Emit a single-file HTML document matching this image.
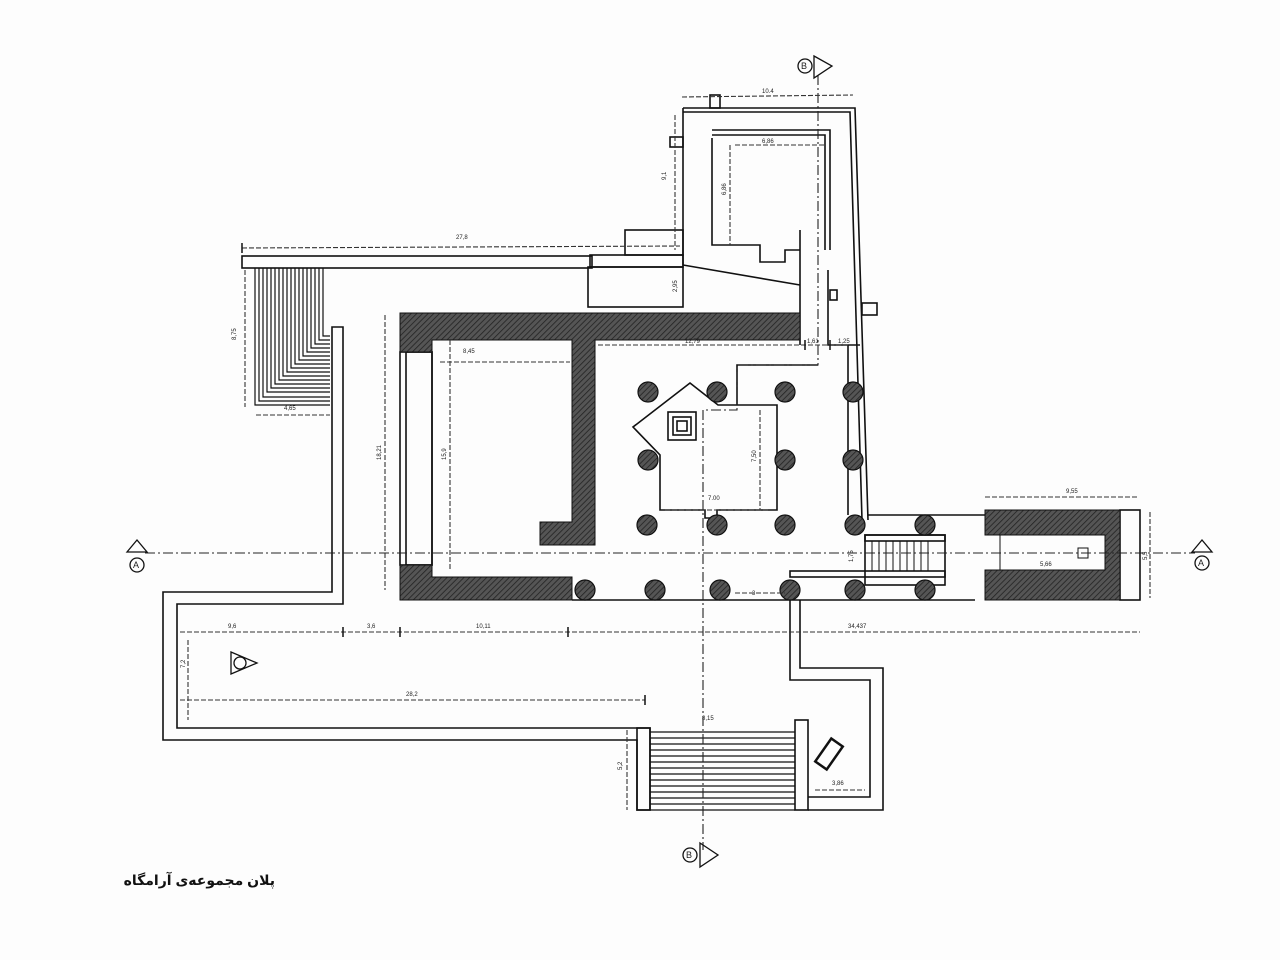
<!DOCTYPE html>
<html><head><meta charset="utf-8"><style>
html,body{margin:0;padding:0;background:#fdfdfd;}
svg{display:block}
text{font-family:"Liberation Sans",sans-serif;font-size:6px;fill:#222}
</style></head><body>
<svg width="1280" height="960" viewBox="0 0 1280 960" xmlns="http://www.w3.org/2000/svg">
<defs>
<pattern id="h" width="4" height="4" patternUnits="userSpaceOnUse" patternTransform="rotate(45)">
<rect width="4" height="4" fill="#555"/><line x1="0" y1="0" x2="0" y2="4" stroke="#222" stroke-width="1.6"/>
</pattern>
</defs>
<rect width="1280" height="960" fill="#fdfdfd"/>
<g fill="none" stroke="#111" stroke-width="1.6">
<rect x="242" y="256" width="350" height="12"/>
<rect x="590" y="255" width="93" height="12"/>
<rect x="588" y="267" width="95" height="40"/>
<rect x="625" y="230" width="58" height="25"/>
<g stroke-width="1.2">
<path d="M255 268V405H330"/><path d="M259 268V401H330"/><path d="M263 268V397H330"/><path d="M267 268V392H330"/>
<path d="M271 268V388H330"/><path d="M275 268V384H330"/><path d="M279 268V380H330"/><path d="M283 268V376H330"/>
<path d="M287 268V372H330"/><path d="M291 268V368H330"/><path d="M295 268V364H330"/><path d="M299 268V360H330"/>
<path d="M303 268V356H330"/><path d="M307 268V352H330"/><path d="M311 268V348H330"/><path d="M315 268V344H330"/><path d="M319 268V340H330"/><path d="M323 268V336H330"/>
</g>
<path d="M332 327H343V604H177V728H650V810H637V740H163V592H332Z"/>
<rect x="637" y="728" width="13" height="82"/>
<g stroke-width="1.2">
<line x1="650" y1="732" x2="795" y2="732"/><line x1="650" y1="738" x2="795" y2="738"/><line x1="650" y1="744" x2="795" y2="744"/>
<line x1="650" y1="750" x2="795" y2="750"/><line x1="650" y1="756" x2="795" y2="756"/><line x1="650" y1="762" x2="795" y2="762"/>
<line x1="650" y1="768" x2="795" y2="768"/><line x1="650" y1="774" x2="795" y2="774"/><line x1="650" y1="780" x2="795" y2="780"/>
<line x1="650" y1="786" x2="795" y2="786"/><line x1="650" y1="792" x2="795" y2="792"/><line x1="650" y1="798" x2="795" y2="798"/>
<line x1="650" y1="804" x2="795" y2="804"/><line x1="650" y1="810" x2="795" y2="810"/>
</g>
<rect x="795" y="720" width="13" height="90"/>
<path d="M790 600V680H870V797H808"/>
<path d="M800 600V668H883V810H808"/>
<rect x="822" y="740" width="14" height="28" transform="rotate(35 829 754)" stroke-width="2.5"/>
<rect x="400" y="352" width="32" height="213"/>
<rect x="406" y="352" width="26" height="213"/>
<line x1="572" y1="600" x2="975" y2="600"/>
<path d="M683 108H855L868 520" />
<path d="M683 112H850L862 520"/>
<path d="M683 108V265L800 285"/>
<path d="M800 345V230"/>
<path d="M712 138V245H760V262H785V250H800"/>
<path d="M712 135H825V250"/>
<path d="M712 130H830V250"/>
<path d="M828 270V345H860"/>
<rect x="710" y="95" width="10" height="13"/>
<rect x="670" y="137" width="13" height="10"/>
<rect x="862" y="303" width="15" height="12"/>
<rect x="830" y="290" width="7" height="10"/>
<path d="M848 345V515"/>
<path d="M690 383L718 405H777V510H717V518H705V510H660V455L633 427Z"/>
<path d="M737 405V365H818"/>
<rect x="668" y="412" width="28" height="28"/>
<rect x="673" y="417" width="18" height="18"/>
<rect x="677" y="421" width="10" height="10"/>
<rect x="865" y="535" width="80" height="50"/>
<rect x="865" y="535" width="80" height="6"/>
<rect x="790" y="571" width="155" height="6"/>
<g stroke-width="1"><line x1="872" y1="541" x2="872" y2="571"/><line x1="879" y1="541" x2="879" y2="571"/><line x1="886" y1="541" x2="886" y2="571"/><line x1="893" y1="541" x2="893" y2="571"/><line x1="900" y1="541" x2="900" y2="571"/><line x1="907" y1="541" x2="907" y2="571"/><line x1="914" y1="541" x2="914" y2="571"/><line x1="921" y1="541" x2="921" y2="571"/><line x1="928" y1="541" x2="928" y2="571"/></g>
<line x1="868" y1="515" x2="985" y2="515"/>
<rect x="1120" y="510" width="20" height="90"/>
</g>
<path d="M400 313H800V340H595V545H540V522H572V340H432V352H400Z" fill="url(#h)" stroke="#111"/>
<path d="M400 565H432V577H572V600H400Z" fill="url(#h)" stroke="#111"/>
<path d="M985 510H1120V600H985V570H1000V535H985Z" fill="url(#h)" stroke="#111"/>
<rect x="1000" y="535" width="105" height="35" fill="#fdfdfd" stroke="#111"/>
<rect x="1078" y="548" width="10" height="10" fill="none" stroke="#111"/>
<g fill="url(#h)" stroke="#111" stroke-width="1.2">
<circle cx="585" cy="590" r="10"/><circle cx="655" cy="590" r="10"/><circle cx="720" cy="590" r="10"/><circle cx="790" cy="590" r="10"/><circle cx="855" cy="590" r="10"/><circle cx="925" cy="590" r="10"/>
<circle cx="647" cy="525" r="10"/><circle cx="717" cy="525" r="10"/><circle cx="785" cy="525" r="10"/><circle cx="855" cy="525" r="10"/><circle cx="925" cy="525" r="10"/>
<circle cx="648" cy="460" r="10"/><circle cx="785" cy="460" r="10"/><circle cx="853" cy="460" r="10"/>
<circle cx="648" cy="392" r="10"/><circle cx="717" cy="392" r="10"/><circle cx="785" cy="392" r="10"/><circle cx="853" cy="392" r="10"/>
</g>
<g fill="none" stroke="#222" stroke-width="1.1" stroke-dasharray="10,3,2,3">
<line x1="145" y1="553" x2="1195" y2="553"/>
<path d="M818 75V365H737V410H703V850"/>
</g>
<g fill="none" stroke="#333" stroke-width="1.1" stroke-dasharray="5,2">
<line x1="242" y1="248" x2="680" y2="246"/>
<line x1="682" y1="97" x2="853" y2="95"/>
<line x1="985" y1="497" x2="1137" y2="497"/>
<line x1="180" y1="632" x2="1140" y2="632"/>
<line x1="180" y1="700" x2="645" y2="700"/>
<line x1="385" y1="315" x2="385" y2="590"/>
<line x1="245" y1="270" x2="245" y2="407"/>
<line x1="256" y1="415" x2="330" y2="415"/>
<line x1="450" y1="340" x2="450" y2="570"/>
<line x1="440" y1="362" x2="570" y2="362"/>
<line x1="598" y1="345" x2="850" y2="345"/>
<line x1="675" y1="115" x2="675" y2="250"/>
<line x1="735" y1="145" x2="825" y2="145"/>
<line x1="730" y1="145" x2="730" y2="245"/>
<line x1="760" y1="410" x2="760" y2="510"/>
<line x1="665" y1="510" x2="770" y2="510"/>
<line x1="735" y1="593" x2="785" y2="593"/>
<line x1="188" y1="640" x2="188" y2="720"/>
<line x1="627" y1="730" x2="627" y2="810"/>
<line x1="815" y1="790" x2="865" y2="790"/>
<line x1="1150" y1="512" x2="1150" y2="598"/>
</g>
<g stroke="#111" stroke-width="1.5">
<line x1="242" y1="243" x2="242" y2="253"/><line x1="343" y1="627" x2="343" y2="637"/><line x1="400" y1="627" x2="400" y2="637"/><line x1="568" y1="627" x2="568" y2="637"/><line x1="645" y1="695" x2="645" y2="705"/>
<line x1="805" y1="340" x2="805" y2="350"/><line x1="830" y1="340" x2="830" y2="350"/>
</g>
<text x="456" y="239">27,8</text>
<text x="762" y="93">10.4</text>
<text x="762" y="143">6,86</text>
<text x="1066" y="493">9,55</text>
<text x="463" y="353">8,45</text>
<text x="685" y="343">12,79</text>
<text x="807" y="343">1,61</text>
<text x="838" y="343">1,25</text>
<text x="708" y="500">7.00</text>
<text x="752" y="595">3</text>
<text x="228" y="628">9,6</text>
<text x="367" y="628">3,6</text>
<text x="476" y="628">10,11</text>
<text x="848" y="628">34,437</text>
<text x="406" y="696">28,2</text>
<text x="702" y="720">8,15</text>
<text x="832" y="785">3,86</text>
<text x="284" y="410">4,65</text>
<text x="1040" y="566">5,66</text>
<g>
<text transform="translate(236 340) rotate(-90)">8,75</text>
<text transform="translate(381 460) rotate(-90)">18,21</text>
<text transform="translate(446 460) rotate(-90)">15,9</text>
<text transform="translate(666 180) rotate(-90)">9,1</text>
<text transform="translate(726 195) rotate(-90)">6,86</text>
<text transform="translate(677 292) rotate(-90)">2,95</text>
<text transform="translate(756 462) rotate(-90)">7,50</text>
<text transform="translate(185 668) rotate(-90)">7,2</text>
<text transform="translate(622 770) rotate(-90)">5,2</text>
<text transform="translate(853 562) rotate(-90)">1,75</text>
<text transform="translate(1147 560) rotate(-90)">5,5</text>
</g>
<g fill="none" stroke="#111" stroke-width="1.3">
<path d="M127 552L137 540L147 552Z"/><circle cx="137" cy="565" r="7"/>
<path d="M1192 552L1202 540L1212 552Z"/><circle cx="1202" cy="563" r="7"/>
<circle cx="805" cy="66" r="7"/><path d="M814 56L832 66L814 78Z"/>
<circle cx="690" cy="855" r="7"/><path d="M700 843L718 855L700 867Z"/>
<path d="M231 652V674L257 663Z"/><circle cx="240" cy="663" r="6"/>
</g>
<text x="133" y="568" style="font-size:9px">A</text>
<text x="1198" y="566" style="font-size:9px">A</text>
<text x="801" y="69" style="font-size:9px">B</text>
<text x="686" y="858" style="font-size:9px">B</text>
<text x="275" y="885" text-anchor="start" direction="rtl" style="font-family:'Liberation Sans','DejaVu Sans',sans-serif;font-size:14px;font-weight:bold;fill:#111">پلان مجموعه‌ی آرامگاه</text>
</svg>
</body></html>
